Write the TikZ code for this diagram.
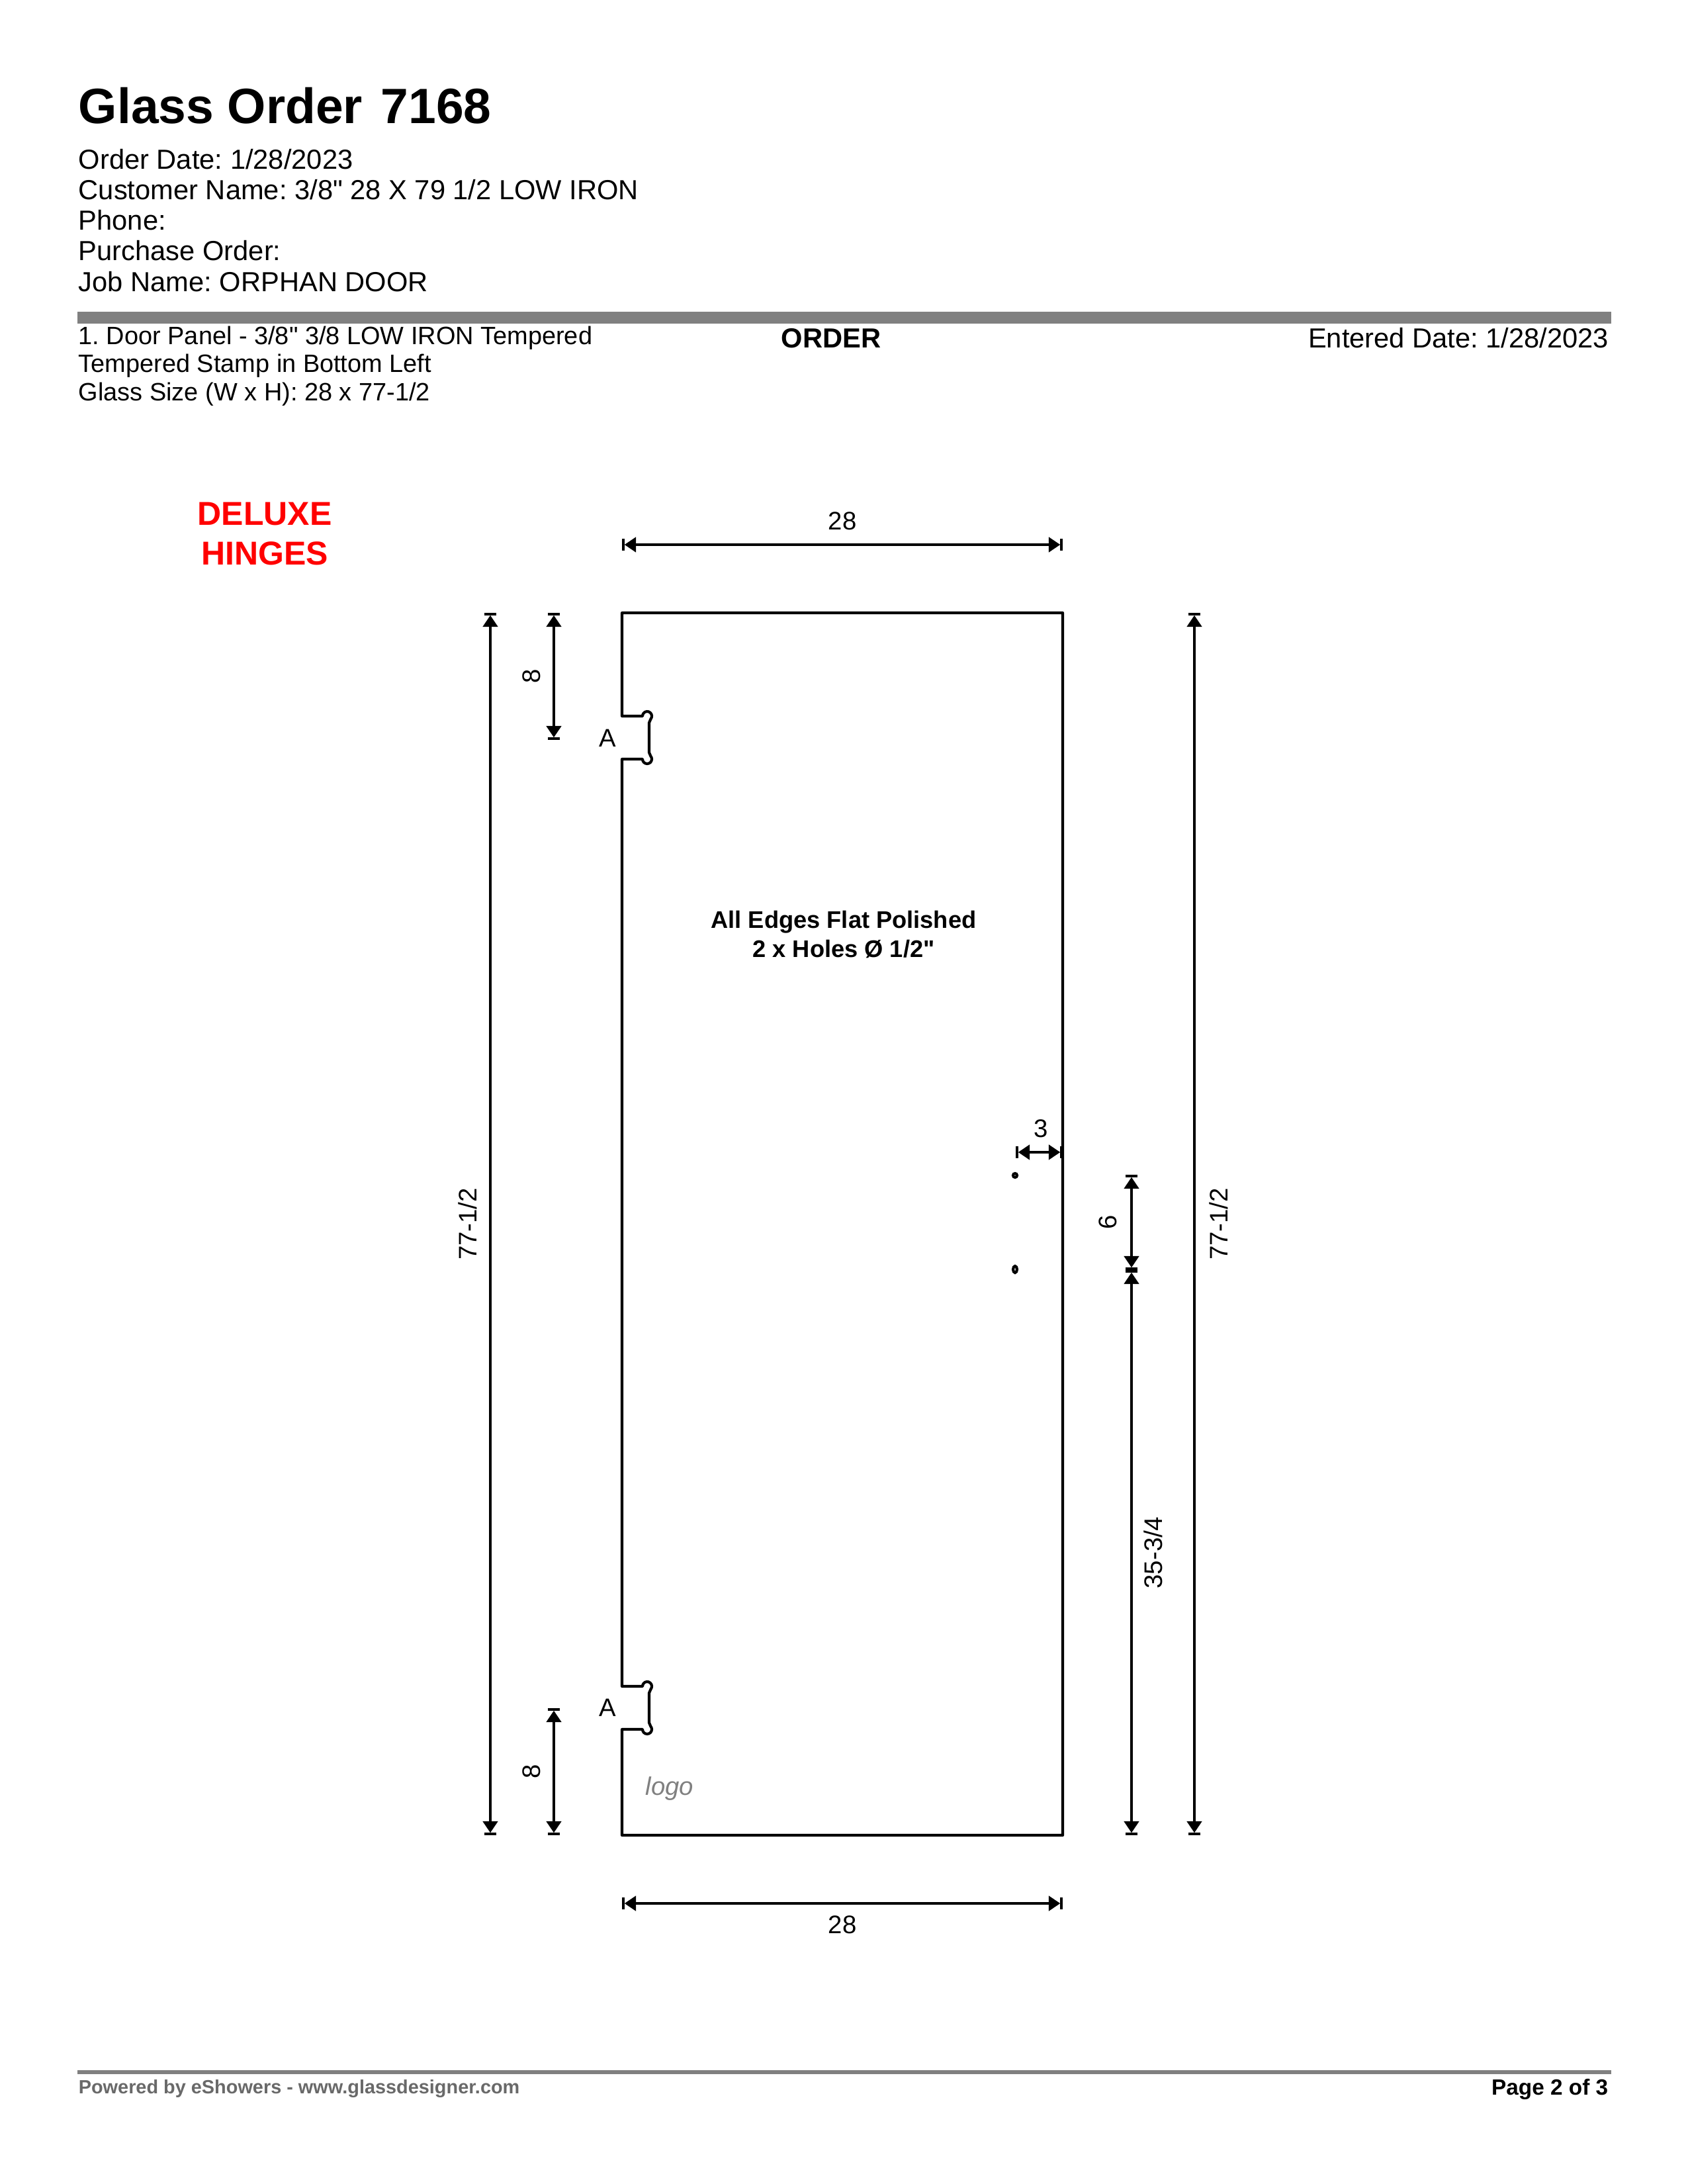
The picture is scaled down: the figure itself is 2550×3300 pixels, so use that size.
\documentclass[tikz,border=0pt]{standalone}
\usepackage{fontspec}
\setmainfont{Liberation Sans}[Ligatures=TeXOff]
\usetikzlibrary{arrows.meta}
\definecolor{rulegray}{HTML}{808080}
\definecolor{footgray}{HTML}{696969}
\tikzset{dimhead/.tip={Triangle[length=4.2pt,width=5.4pt].Bar[width=4.4pt,line width=.9pt]}}
\tikzstyle{line} = [draw, line width=.9pt, dimhead-dimhead]
\tikzstyle{panel} = [draw, line width=1pt, line join=round]
\tikzstyle{textbox} = [inner sep=0, align=left]
\tikzstyle{dimlabel} = [inner sep=0, font=\fontsize{9.2bp}{10bp}\selectfont]
\tikzstyle{upleft} = [dimlabel, rotate=90, above=4.5pt]
\tikzstyle{upright} = [dimlabel, rotate=90, below=5pt]

\begin{document}
\frenchspacing
\begin{tikzpicture}[x=0.24bp, y=-0.24bp]
    \useasboundingbox (0,0) rectangle (2550,3300);
    % Place header
    \node [textbox, anchor=base west, font=\fontsize{18bp}{20bp}\bfseries] (title) at (118,186) {Glass Order\hspace{6.6bp}7168};
    \node [textbox, anchor=north west, font=\fontsize{10bp}{11.1bp}\selectfont] (order) at (118,224) {Order Date: 1/28/2023\\Customer Name: 3/8" 28 X 79 1/2 LOW IRON\\Phone:\\Purchase Order:\\Job Name: ORPHAN DOOR};
    \fill [rulegray] (117,471) rectangle (2435,489);
    \node [textbox, anchor=north west, font=\fontsize{9.1bp}{10.2bp}\selectfont] (item) at (118,492) {1. Door Panel - 3/8" 3/8 LOW IRON Tempered\\Tempered Stamp in Bottom Left\\Glass Size (W x H): 28 x 77-1/2};
    \node [inner sep=0, font=\fontsize{10bp}{11bp}\bfseries] (ordertag) at (1256,511) {ORDER};
    \node [inner sep=0, anchor=east, font=\fontsize{10bp}{11bp}\selectfont] (entered) at (2432,511) {Entered Date: 1/28/2023};
    \node [inner sep=0, align=center, text=red, font=\fontsize{12bp}{14.4bp}\bfseries] (hinges) at (400,807) {DELUXE\\HINGES};
    % Place panel
    \coordinate (tl) at (940,926);
    \coordinate (tr) at (1606,926);
    \coordinate (br) at (1606,2773);
    \coordinate (bl) at (940,2773);
    \path [panel] (tl) -- (tr) -- (br) -- (bl) -- (940,2613) -- (971,2613) arc [start angle=180, end angle=-40, radius=7] -- (981,2603) -- (981,2558) -- (983.4,2552.5) arc [start angle=40, end angle=-180, radius=7] -- (940,2548)
        -- (940,1147) -- (971,1147) arc [start angle=180, end angle=-40, radius=7] -- (981,1137) -- (981,1092) -- (983.4,1086.5) arc [start angle=40, end angle=-180, radius=7] -- (940,1082) -- cycle;
    \draw [line width=1pt] (1534,1776) circle [radius=3];
    \draw [line width=1pt] (1534,1918) circle [x radius=3, y radius=5];
    \node [inner sep=0, align=center, font=\fontsize{8.7bp}{10.7bp}\bfseries] (note) at (1275,1412) {All Edges Flat Polished\\2 x Holes Ø 1/2"};
    \node [dimlabel] (hingea) at (918,1115) {A};
    \node [dimlabel] (hingeb) at (918,2580) {A};
    \node [dimlabel, text=rulegray, font=\fontsize{9.2bp}{10bp}\itshape] (logo) at (1012,2703) {logo};
    % Place dimension ends
    \coordinate (wtl) at (940,823);
    \coordinate (wtr) at (1606,823);
    \coordinate (wbl) at (940,2876);
    \coordinate (wbr) at (1606,2876);
    \coordinate (hlt) at (741,926);
    \coordinate (hlb) at (741,2773);
    \coordinate (hrt) at (1805,926);
    \coordinate (hrb) at (1805,2773);
    \coordinate (at) at (837,926);
    \coordinate (ab) at (837,1118);
    \coordinate (ct) at (837,2581);
    \coordinate (cb) at (837,2773);
    \coordinate (holetop) at (1710,1775);
    \coordinate (holemid) at (1710,1919);
    \coordinate (holebot) at (1710,2773);
    \coordinate (holel) at (1535,1741);
    \coordinate (holer) at (1606,1741);
    % Draw dimensions
    \path [line] (wtl) -- node [dimlabel, above=5pt] (wtop) {28} (wtr);
    \path [line] (wbl) -- node [dimlabel, below=4pt] (wbot) {28} (wbr);
    \path [line] (hlt) -- node [upleft] (hleft) {77-1/2} (hlb);
    \path [line] (hrt) -- node [upright] (hright) {77-1/2} (hrb);
    \path [line] (at) -- node [upleft] (atop) {8} (ab);
    \path [line] (ct) -- node [upleft] (abot) {8} (cb);
    \path [line] (holetop) -- node [dimlabel, rotate=90, above=5pt] (hole6) {6} (holemid);
    \path [line] (holemid) -- node [dimlabel, rotate=90, below=4pt] (hole35) {35-3/4} (holebot);
    \path [line] (holel) -- node [dimlabel, above=5pt, xshift=.7pt] (hole3) {3} (holer);
    % Place footer
    \fill [rulegray] (117,3128) rectangle (2435,3134);
    \node [inner sep=0, anchor=base west, text=footgray, font=\fontsize{6.93bp}{9bp}\bfseries] (powered) at (118,3163) {Powered by eShowers - www.glassdesigner.com};
    \node [inner sep=0, anchor=base east, font=\fontsize{8bp}{9bp}\bfseries] (page) at (2431,3165) {Page 2 of 3};
\end{tikzpicture}
\end{document}
